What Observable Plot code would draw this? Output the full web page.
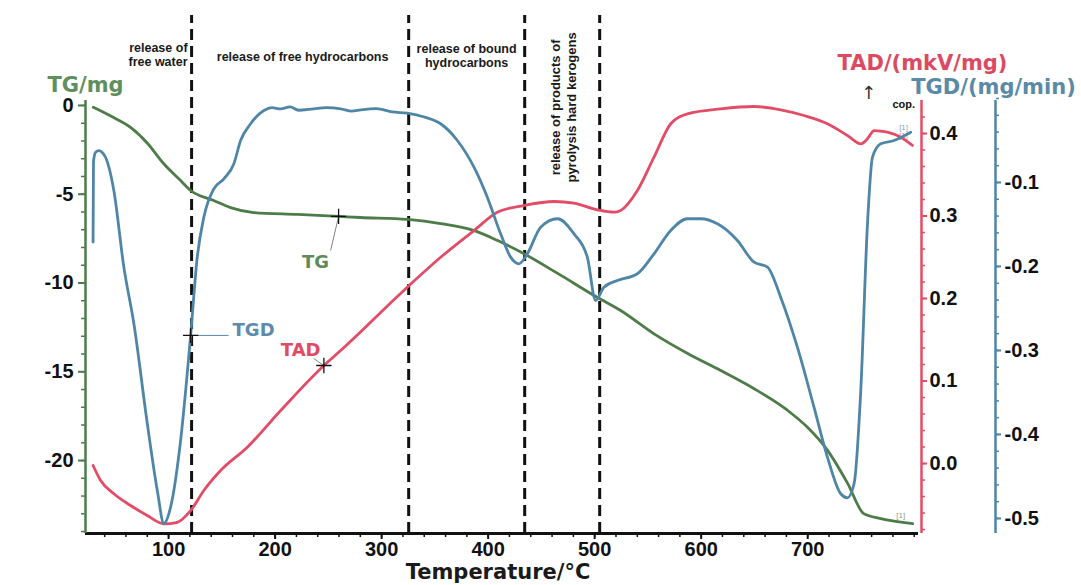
<!DOCTYPE html>
<html><head><meta charset="utf-8">
<script src="https://cdn.jsdelivr.net/npm/d3@7"></script>
<script src="https://cdn.jsdelivr.net/npm/@observablehq/plot@0.6"></script>
<style>
html,body{margin:0;padding:0;background:#fff;}
#chart{position:relative;width:1081px;height:585px;background:#fff;}
#chart svg{position:absolute;left:0;top:0;}
</style></head><body><div id="chart"></div>
<script>
// ---------- data ----------
const tgT = [29.3, 48.4, 64.3, 80.3, 95.3, 111.3, 120.7, 142.3, 158.2, 179.8, 221.1, 259.6, 280.3, 324.4, 355.4, 386.4, 408.9, 433.3, 465.3, 502.8, 524.4, 555.4, 587.3, 618.3, 649.3, 681.2, 700, 718.8, 737.6, 752.6, 768.5, 798.6];
const tgV = [-0.1, -0.68, -1.24, -2.14, -3.27, -4.23, -4.79, -5.35, -5.75, -6.03, -6.14, -6.25, -6.31, -6.42, -6.65, -7.04, -7.61, -8.34, -9.46, -10.82, -11.55, -12.85, -13.97, -14.93, -15.94, -17.18, -18.14, -19.44, -21.30, -22.99, -23.27, -23.55];

const tgdT = [29.1, 29.5, 31.5, 34.6, 37.5, 40.8, 48.6, 58.0, 67.4, 80.0, 89.4, 95.6, 101.9, 111.3, 120.7, 126.9, 133.1, 142.5, 151.9, 161.3, 167.6, 177.0, 189.5, 197, 205.2, 214, 222, 236.2, 248, 261.5, 272, 280.3, 295, 310, 324.1, 340, 355.4, 371.1, 386.7, 399.2, 411.7, 421.1, 428.9, 436.8, 449.3, 465.0, 480.6, 493.1, 500.9, 508.7, 521.3, 540.1, 555.7, 571.4, 587.1, 599.6, 615.2, 634.0, 649.6, 662.2, 674.6, 690.3, 705.9, 718.5, 731.0, 737.3, 743.5, 749.8, 756.1, 760.8, 768.5, 781.0, 796.7];
const tgdV = [-0.171, -0.075, -0.064, -0.062, -0.064, -0.070, -0.1095, -0.2008, -0.2679, -0.3869, -0.4667, -0.506, -0.4865, -0.4071, -0.2821, -0.1889, -0.1413, -0.1075, -0.0956, -0.0777, -0.050, -0.0301, -0.0143, -0.011, -0.0123, -0.010, -0.014, -0.0123, -0.011, -0.0123, -0.015, -0.0135, -0.012, -0.016, -0.0175, -0.022, -0.0301, -0.050, -0.0818, -0.1175, -0.1611, -0.1889, -0.1968, -0.1849, -0.1532, -0.1432, -0.1611, -0.1889, -0.2405, -0.2246, -0.2167, -0.2087, -0.1849, -0.1571, -0.1432, -0.1432, -0.1492, -0.169, -0.1949, -0.2008, -0.2365, -0.2961, -0.3675, -0.427, -0.4706, -0.4754, -0.4587, -0.3476, -0.1492, -0.0699, -0.0539, -0.050, -0.0401];

const tadT = [29.1, 36.2, 48.6, 64.3, 80.0, 95.6, 108.2, 120.7, 133.1, 148.8, 173.9, 205.2, 245.8, 261.5, 324.1, 355.4, 386.7, 408.6, 433.6, 461.8, 480.6, 502.5, 518.1, 524.4, 540.1, 555.7, 571.4, 587.1, 618.3, 649.6, 674.6, 696.5, 718.5, 737.3, 749.8, 756.1, 762.3, 774.8, 787.3, 798.3];
const tadV = [-0.0024, -0.0206, -0.0367, -0.0509, -0.063, -0.0731, -0.0712, -0.057, -0.0327, -0.0085, 0.0198, 0.0642, 0.1188, 0.137, 0.2137, 0.25, 0.2824, 0.3046, 0.3127, 0.3176, 0.3155, 0.3075, 0.3046, 0.3067, 0.3309, 0.3713, 0.4118, 0.4239, 0.4299, 0.4327, 0.4287, 0.4218, 0.4118, 0.3976, 0.3875, 0.3936, 0.4036, 0.4016, 0.3955, 0.3855];

const phaseT = [121.6, 325.4, 434.3, 504.7];

const xTicks = [100, 200, 300, 400, 500, 600, 700];
const xTickLabels = ["100", "200", "300", "400", "500", "600", "700"];
const xMinor = d3.range(40, 801, 20);

const tgTicks = [0, -5, -10, -15, -20];
const tgTickLabels = ["0", "-5", "-10", "-15", "-20"];
const tgMinor = d3.range(-24, 1, 1);

const tadTicks = [0.4, 0.3, 0.2, 0.1, 0.0];
const tadTickLabels = ["0.4", "0.3", "0.2", "0.1", "0.0"];
const tadMinor = d3.range(-8, 44, 2).map(d => d / 100);

const tgdTicks = [-0.1, -0.2, -0.3, -0.4, -0.5];
const tgdTickLabels = ["-0.1", "-0.2", "-0.3", "-0.4", "-0.5"];
const tgdMinor = d3.range(-50, 1, 2).map(d => d / 100);

// annotations (temperature, value in that layer's units)
const waterLabel = [{t: 117.8, v: 2.87, text: "release of\nfree water"}];
const phaseLabels = [
  {t: 225.8, v: 2.76, text: "release of free hydrocarbons"},
  {t: 379.8, v: 2.82, text: "release of bound\nhydrocarbons"}
];
const kerogenLabel = [{t: 470, v: -0.11, text: "release of products of\npyrolysis hard kerogens"}];

// ---------- styling ----------
const GREEN = "#4d7c48", RED = "#e34c67", BLUE = "#4f85a6";
const W = 1081, H = 585;
const X_DOMAIN = [22, 804];
const TG_DOMAIN = [-24.11, 0.28];
const TAD_DOMAIN = [-0.0848, 0.44];
const TGD_DOMAIN = [-0.5179, -0.0024];
const NUM_FONT = "Liberation Sans, Arial, sans-serif";
const TITLE_FONT = "DejaVu Sans, Verdana, sans-serif";

const zip = (ts, vs) => ts.map((t, i) => ({t, v: vs[i]}));
const base = (yDomain, xAxis) => ({
  width: W, height: H,
  marginTop: 100, marginBottom: 52, marginLeft: 85, marginRight: 163,
  x: xAxis ? {domain: X_DOMAIN, label: null} : {domain: X_DOMAIN, label: null, axis: null},
  y: {domain: yDomain, label: null},
  style: {background: "transparent", fontFamily: NUM_FONT, overflow: "visible"}
});

// ---------- layer 1: TG + x axis ----------
const p1 = Plot.plot({
  ...base(TG_DOMAIN, true),
  marks: [
    Plot.ruleX(phaseT, {y1: TG_DOMAIN[0], y2: 5.07, stroke: "#111", strokeWidth: 3, strokeDasharray: "11,6"}),
    Plot.line(zip(tgT, tgV), {x: "t", y: "v", stroke: GREEN, strokeWidth: 2.8, curve: "monotone-x"}),
    // x axis
    Plot.axisX({ticks: xMinor, tickSize: 4, fill: "none", stroke: "#111", strokeWidth: 1.5, label: null}),
    Plot.axisX({ticks: xTicks, tickSize: 6, tickPadding: 2, tickFormat: (d, i) => xTickLabels[i], stroke: "#111", strokeWidth: 2,
      fill: "#111", fontSize: 20, fontWeight: "bold", fontFamily: NUM_FONT, label: null}),
    Plot.ruleY([TG_DOMAIN[0]], {stroke: "#111", strokeWidth: 3}),
    // left axis
    Plot.axisY({ticks: tgMinor, tickSize: 4, fill: "none", stroke: GREEN, strokeWidth: 1.5, label: null}),
    Plot.axisY({ticks: tgTicks, tickSize: 7, tickPadding: 5, tickFormat: (d, i) => tgTickLabels[i], stroke: GREEN, strokeWidth: 2,
      fill: "#111", fontSize: 20, fontWeight: "bold", fontFamily: NUM_FONT, label: null}),
    Plot.ruleX([X_DOMAIN[0]], {stroke: GREEN, strokeWidth: 2.5}),
    // titles
    Plot.text(["TG/mg"], {frameAnchor: "top-left", textAnchor: "middle", dy: -23, text: d => d, fill: "#5f8f5c", fontSize: 21, fontWeight: "bold", fontFamily: TITLE_FONT}),
    Plot.text(["Temperature/°C"], {frameAnchor: "bottom", dx: -4, dy: 45, text: d => d, fill: "#1a1a1a", fontSize: 21, fontWeight: "bold", fontFamily: TITLE_FONT}),
    // phase labels
    Plot.text(waterLabel, {x: "t", y: "v", text: "text", textAnchor: "end", fill: "#1a1a1a", fontSize: 12.5, fontWeight: "bold", lineHeight: 1.15, fontFamily: NUM_FONT}),
    Plot.text(phaseLabels, {x: "t", y: "v", text: "text", fill: "#1a1a1a", fontSize: 12.5, fontWeight: "bold", lineHeight: 1.15, fontFamily: NUM_FONT}),
    Plot.text(kerogenLabel, {x: "t", y: "v", text: "text", rotate: -90, fill: "#1a1a1a", fontSize: 13, fontWeight: "bold", lineHeight: 1.22, fontFamily: NUM_FONT}),
    // TG curve label
    Plot.link([{x1: 259.6, y1: -6.25, x2: 252.1, y2: -8.17}], {x1: "x1", y1: "y1", x2: "x2", y2: "y2", stroke: "#666", strokeWidth: 0.8}),
    Plot.dot([{t: 259.6, v: -6.25}], {x: "t", y: "v", symbol: "plus", r: 5, stroke: "#111", strokeWidth: 1.3}),
    Plot.text([{t: 238, v: -8.85, s: "TG"}], {x: "t", y: "v", text: "s", fill: "#5f8a5a", fontSize: 18, fontWeight: "bold", fontFamily: TITLE_FONT}),
    // small marks near right edge
    Plot.text([{t: 790.1, v: 0.056, s: "cop."}], {x: "t", y: "v", text: "s", fill: "#111", fontSize: 11, fontWeight: "bold", fontFamily: NUM_FONT}),
    Plot.text([{t: 757.3, v: 0.68, s: "↑"}], {x: "t", y: "v", text: "s", fill: "#333", fontSize: 18, fontFamily: "DejaVu Sans, sans-serif"}),
    Plot.text([{t: 790, v: -1.24, s: "[1]"}], {x: "t", y: "v", text: "s", fill: "#8fa3b3", fontSize: 8}),
    Plot.text([{t: 790, v: -1.69, s: "[1]"}], {x: "t", y: "v", text: "s", fill: "#d9909c", fontSize: 8}),
    Plot.text([{t: 787.3, v: -23.1, s: "[1]"}], {x: "t", y: "v", text: "s", fill: "#8fa08c", fontSize: 8})
  ]
});

// ---------- layer 2: TAD ----------
const p2 = Plot.plot({
  ...base(TAD_DOMAIN, false),
  marks: [
    Plot.line(zip(tadT, tadV), {x: "t", y: "v", stroke: RED, strokeWidth: 2.8, curve: "monotone-x"}),
    Plot.ruleX([X_DOMAIN[1]], {dx: 3, stroke: RED, strokeWidth: 2.5}),
    Plot.axisY({anchor: "right", dx: 3, ticks: tadMinor, tickSize: 3, fill: "none", stroke: RED, strokeWidth: 1.5, label: null}),
    Plot.axisY({anchor: "right", dx: 3, ticks: tadTicks, tickSize: 5, tickPadding: 3, tickFormat: (d, i) => tadTickLabels[i], stroke: RED, strokeWidth: 2,
      fill: "#111", fontSize: 20, fontWeight: "bold", fontFamily: NUM_FONT, label: null}),
    Plot.text(["TAD/(mkV/mg)"], {frameAnchor: "top-right", textAnchor: "middle", dx: 4, dy: -45, text: d => d, fill: "#dc4a62", fontSize: 21, fontWeight: "bold", fontFamily: TITLE_FONT}),
    Plot.link([{x1: 245.8, y1: 0.1188, x2: 236.2, y2: 0.1273}], {x1: "x1", y1: "y1", x2: "x2", y2: "y2", stroke: "#666", strokeWidth: 0.8}),
    Plot.dot([{t: 245.8, v: 0.1188}], {x: "t", y: "v", symbol: "plus", r: 5, stroke: "#111", strokeWidth: 1.3}),
    Plot.text([{t: 224, v: 0.137, s: "TAD"}], {x: "t", y: "v", text: "s", fill: "#e04a62", fontSize: 18, fontWeight: "bold", fontFamily: TITLE_FONT})
  ]
});

// ---------- layer 3: TGD ----------
const p3 = Plot.plot({
  ...base(TGD_DOMAIN, false),
  marks: [
    Plot.line(zip(tgdT, tgdV), {x: "t", y: "v", stroke: BLUE, strokeWidth: 2.8, curve: "monotone-x"}),
    Plot.ruleX([X_DOMAIN[1]], {dx: 77, stroke: BLUE, strokeWidth: 2.5}),
    Plot.axisY({anchor: "right", dx: 77, ticks: tgdMinor, tickSize: 3, fill: "none", stroke: BLUE, strokeWidth: 1.5, label: null}),
    Plot.axisY({anchor: "right", dx: 77, ticks: tgdTicks, tickSize: 5, tickPadding: 4, tickFormat: (d, i) => tgdTickLabels[i], stroke: BLUE, strokeWidth: 2,
      fill: "#111", fontSize: 20, fontWeight: "bold", fontFamily: NUM_FONT, label: null}),
    Plot.text(["TGD/(mg/min)"], {frameAnchor: "top-right", textAnchor: "middle", dx: 75, dy: -21, text: d => d, fill: "#5a8aa6", fontSize: 21, fontWeight: "bold", fontFamily: TITLE_FONT}),
    Plot.link([{x1: 120.7, y1: -0.2821, x2: 156.3, y2: -0.2821}], {x1: "x1", y1: "y1", x2: "x2", y2: "y2", stroke: "#5a8aa6", strokeWidth: 1}),
    Plot.dot([{t: 120.7, v: -0.2821}], {x: "t", y: "v", symbol: "plus", r: 5, stroke: "#111", strokeWidth: 1.3}),
    Plot.text([{t: 179.8, v: -0.2762, s: "TGD"}], {x: "t", y: "v", text: "s", fill: "#5e8aab", fontSize: 18, fontWeight: "bold", fontFamily: TITLE_FONT})
  ]
});

const chart = document.getElementById("chart");
chart.append(p1, p2, p3);
</script>
</body></html>
